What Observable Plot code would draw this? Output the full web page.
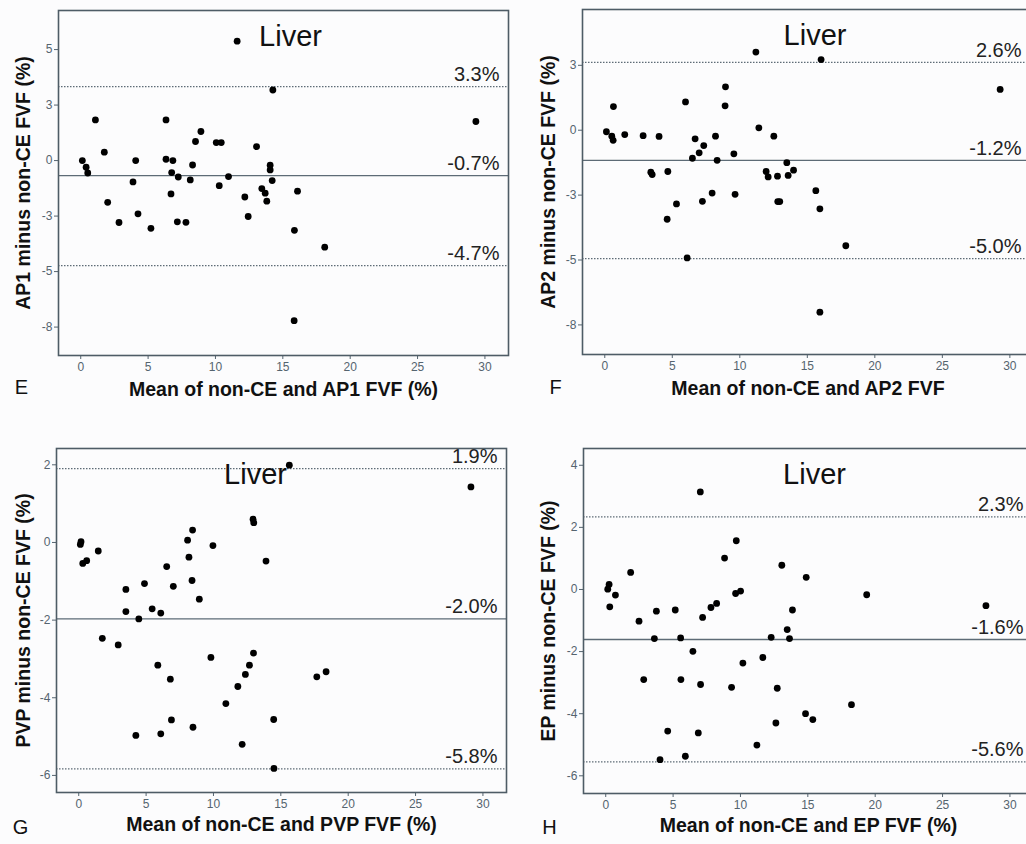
<!DOCTYPE html>
<html>
<head>
<meta charset="utf-8">
<script src="https://cdn.jsdelivr.net/npm/d3@7"></script>
<script src="https://cdn.jsdelivr.net/npm/@observablehq/plot@0.6"></script>
<style>
  html, body { margin: 0; padding: 0; background: #fcfcfd; }
  body { position: relative; width: 1026px; height: 844px; overflow: hidden; }
  .panel { position: absolute; }
  .panel svg { max-width: none !important; }
</style>
</head>
<body>
<div id="pE" class="panel" style="left:0px;top:0px"></div>
<div id="pF" class="panel" style="left:513px;top:0px"></div>
<div id="pG" class="panel" style="left:0px;top:420px"></div>
<div id="pH" class="panel" style="left:513px;top:420px"></div>
<script>
// ---------- Data ----------
const xTicks = [0, 5, 10, 15, 20, 25, 30];
const panelTitle = "Liver";

// Panel E: AP1
const eMean = [11.61, 14.26, 29.33, 1.09, 6.33, 8.92, 8.52, 10.06, 10.43, 13.05, 1.75, 0.12, 0.40, 0.52, 4.08, 6.33, 6.84, 6.75, 7.24, 8.30, 8.13, 10.97, 10.28, 14.06, 14.06, 14.21, 3.88, 6.70, 13.44, 13.69, 16.09, 12.18, 13.81, 2.00, 4.25, 12.43, 2.84, 7.17, 7.81, 5.21, 15.86, 18.11, 15.84];
const eDiff = [5.38, 3.18, 1.76, 1.83, 1.83, 1.31, 0.86, 0.81, 0.81, 0.63, 0.38, 0.00, -0.30, -0.56, 0.00, 0.06, 0.00, -0.54, -0.74, -0.20, -0.87, -0.72, -1.13, -0.21, -0.42, -0.90, -0.96, -1.50, -1.26, -1.47, -1.38, -1.64, -1.83, -1.88, -2.40, -2.52, -2.79, -2.76, -2.78, -3.05, -3.14, -3.90, -7.21];
const eLimits = [3.33, -0.68, -4.73];
const eLimitLabels = ["3.3%", "-0.7%", "-4.7%"];
const eYTicks = [-7.5, -5, -2.5, 0, 2.5, 5];

// Panel F: AP2
const fMean = [11.19, 16.02, 29.28, 8.94, 5.98, 0.64, 8.91, 11.41, 0.12, 0.52, 0.62, 1.48, 2.84, 4.02, 6.69, 8.20, 12.52, 7.33, 6.99, 6.49, 9.56, 8.32, 13.48, 13.98, 11.95, 12.10, 12.79, 13.58, 3.41, 3.51, 4.67, 7.95, 9.65, 7.23, 5.31, 12.81, 12.96, 15.63, 15.93, 4.62, 17.85, 6.10, 15.93];
const fDiff = [3.01, 2.72, 1.57, 1.67, 1.09, 0.91, 0.94, 0.09, -0.06, -0.23, -0.39, -0.17, -0.21, -0.24, -0.33, -0.23, -0.23, -0.59, -0.87, -1.08, -0.91, -1.16, -1.25, -1.54, -1.59, -1.80, -1.77, -1.74, -1.62, -1.71, -1.59, -2.42, -2.47, -2.74, -2.84, -2.75, -2.75, -2.33, -3.03, -3.43, -4.45, -4.92, -7.01];
const fLimits = [2.61, -1.16, -4.95];
const fLimitLabels = ["2.6%", "-1.2%", "-5.0%"];
const fYTicks = [-7.5, -5, -2.5, 0, 2.5];

// Panel G: PVP
const gMean = [15.63, 29.11, 12.94, 12.99, 8.45, 8.08, 0.17, 0.12, 9.96, 1.45, 8.18, 0.30, 0.59, 13.90, 6.53, 8.41, 4.88, 7.02, 3.50, 8.95, 3.50, 5.45, 6.09, 4.46, 1.75, 2.93, 9.81, 12.97, 5.87, 12.67, 12.37, 6.80, 17.67, 18.36, 11.81, 10.92, 6.88, 14.47, 8.48, 4.24, 6.09, 12.13, 14.49];
const gDiff = [1.99, 1.43, 0.60, 0.51, 0.32, 0.06, 0.02, -0.05, -0.08, -0.22, -0.38, -0.54, -0.47, -0.48, -0.62, -0.98, -1.06, -1.13, -1.21, -1.46, -1.78, -1.71, -1.82, -1.97, -2.47, -2.64, -2.96, -2.85, -3.16, -3.16, -3.40, -3.52, -3.46, -3.33, -3.71, -4.15, -4.57, -4.56, -4.76, -4.97, -4.93, -5.20, -5.82];
const gLimits = [1.90, -1.97, -5.83];
const gLimitLabels = ["1.9%", "-2.0%", "-5.8%"];
const gYTicks = [-6, -4, -2, 0, 2];

// Panel H: EP
const hMean = [7.02, 9.69, 8.82, 13.07, 14.88, 1.85, 0.25, 0.15, 0.72, 0.30, 9.64, 10.01, 19.37, 28.22, 8.23, 7.81, 3.76, 5.16, 13.86, 7.19, 2.47, 13.47, 3.61, 5.56, 12.28, 13.64, 6.47, 10.18, 11.66, 2.82, 5.58, 7.04, 9.34, 12.73, 18.24, 14.83, 15.37, 12.63, 4.60, 6.87, 11.22, 5.91, 4.03];
const hDiff = [3.14, 1.57, 1.01, 0.78, 0.39, 0.55, 0.16, 0.01, -0.18, -0.56, -0.13, -0.05, -0.17, -0.52, -0.45, -0.58, -0.70, -0.66, -0.66, -0.90, -1.02, -1.29, -1.58, -1.56, -1.54, -1.58, -1.99, -2.37, -2.19, -2.90, -2.90, -3.06, -3.15, -3.18, -3.71, -4.00, -4.19, -4.30, -4.56, -4.62, -5.01, -5.37, -5.48];
const hLimits = [2.34, -1.61, -5.55];
const hLimitLabels = ["2.3%", "-1.6%", "-5.6%"];
const hYTicks = [-6, -4, -2, 0, 2, 4];

// ---------- Drawing ----------
const FONT = "'Liberation Sans', Arial, Helvetica, sans-serif";
const FRAME = "#4e5c66";
const TICKCOL = "#55646f";
const LINECOL = "#5d6b76";
const xDomain = [-1.65, 31.75];

// SPSS-style rounding of tick labels (half away from zero), with plain hyphen
const roundLabel = d => String(Math.sign(d) * Math.round(Math.abs(d)));

function panel(cfg) {
  const pts = cfg.mean.map((m, i) => ({x: m, y: cfg.diff[i]}));
  const lim = cfg.limits.map((v, i) => ({y: v, label: cfg.limitLabels[i], kind: i === 1 ? "mean" : "loa"}));
  return Plot.plot({
    width: cfg.width,
    height: cfg.height,
    marginTop: cfg.m[0], marginRight: cfg.m[1], marginBottom: cfg.m[2], marginLeft: cfg.m[3],
    style: {fontFamily: FONT, background: "transparent", overflow: "visible", color: "#111"},
    x: {domain: xDomain},
    y: {domain: cfg.yDomain},
    marks: [
      Plot.ruleY(lim.filter(d => d.kind === "loa"), {y: "y", stroke: LINECOL, strokeWidth: 1.2, strokeDasharray: "1.5,1.5"}),
      Plot.ruleY(lim.filter(d => d.kind === "mean"), {y: "y", stroke: LINECOL, strokeWidth: 1.3}),
      Plot.dot(pts, {x: "x", y: "y", r: 3.4, fill: "#000", stroke: "none"}),
      Plot.text(lim, {y: "y", text: "label", frameAnchor: "right", textAnchor: "end", dx: cfg.labelDx, dy: -12, fontSize: 20, fill: "#222"}),
      Plot.text([panelTitle], {frameAnchor: "top", textAnchor: "middle", dx: cfg.titleDx, dy: 15, fontSize: 29, fill: "#111"}),
      Plot.axisX(xTicks, {tickSize: 4, tickPadding: 3, fontSize: 12, color: TICKCOL, label: null}),
      Plot.axisY(cfg.yTicks, {tickSize: 4, tickPadding: 2, fontSize: 12, color: TICKCOL, tickFormat: roundLabel, label: null}),
      Plot.frame({stroke: FRAME, strokeWidth: 1.6}),
      Plot.text([cfg.xTitle], {frameAnchor: "bottom", textAnchor: "middle", dy: cfg.xTitleDy, fontSize: 19.5, fontWeight: "bold", fill: "#111"}),
      Plot.text([cfg.yTitle], {frameAnchor: "left", textAnchor: "middle", rotate: -90, dx: cfg.yTitleDx, fontSize: 19.5, fontWeight: "bold", fill: "#111"}),
      Plot.text([cfg.letter], {frameAnchor: "bottom-left", textAnchor: "middle", dx: cfg.letterDx, dy: cfg.letterDy, fontSize: 20, fill: "#111"})
    ]
  });
}

document.getElementById("pE").append(panel({
  mean: eMean, diff: eDiff, limits: eLimits, limitLabels: eLimitLabels, yTicks: eYTicks,
  yDomain: [-8.78, 6.76], width: 513, height: 420, m: [10, 5, 65, 58],
  xTitle: "Mean of non-CE and AP1 FVF (%)", yTitle: "AP1 minus non-CE FVF (%)", letter: "E",
  labelDx: -9, titleDx: 7, xTitleDy: 40, yTitleDx: -35, letterDx: -37, letterDy: 38
}));
document.getElementById("pF").append(panel({
  mean: fMean, diff: fDiff, limits: fLimits, limitLabels: fLimitLabels, yTicks: fYTicks,
  yDomain: [-8.64, 4.65], width: 525, height: 420, m: [9, 5, 66, 69],
  xTitle: "Mean of non-CE and AP2 FVF", yTitle: "AP2 minus non-CE FVF (%)", letter: "F",
  labelDx: -12, titleDx: 7, xTitleDy: 40, yTitleDx: -34, letterDx: -27, letterDy: 39
}));
document.getElementById("pG").append(panel({
  mean: gMean, diff: gDiff, limits: gLimits, limitLabels: gLimitLabels, yTicks: gYTicks,
  yDomain: [-6.44, 2.42], width: 513, height: 424, m: [28, 7, 52, 56],
  xTitle: "Mean of non-CE and PVP FVF (%)", yTitle: "PVP minus non-CE FVF (%)", letter: "G",
  labelDx: -9, titleDx: -26, xTitleDy: 38, yTitleDx: -33, letterDx: -36, letterDy: 41
}));
document.getElementById("pH").append(panel({
  mean: hMean, diff: hDiff, limits: hLimits, limitLabels: hLimitLabels, yTicks: hYTicks,
  yDomain: [-6.57, 4.54], width: 525, height: 424, m: [28, 5, 51, 70],
  xTitle: "Mean of non-CE and EP FVF (%)", yTitle: "EP minus non-CE FVF (%)", letter: "H",
  labelDx: -10, titleDx: 6, xTitleDy: 38, yTitleDx: -35, letterDx: -34, letterDy: 40
}));
</script>
</body>
</html>
